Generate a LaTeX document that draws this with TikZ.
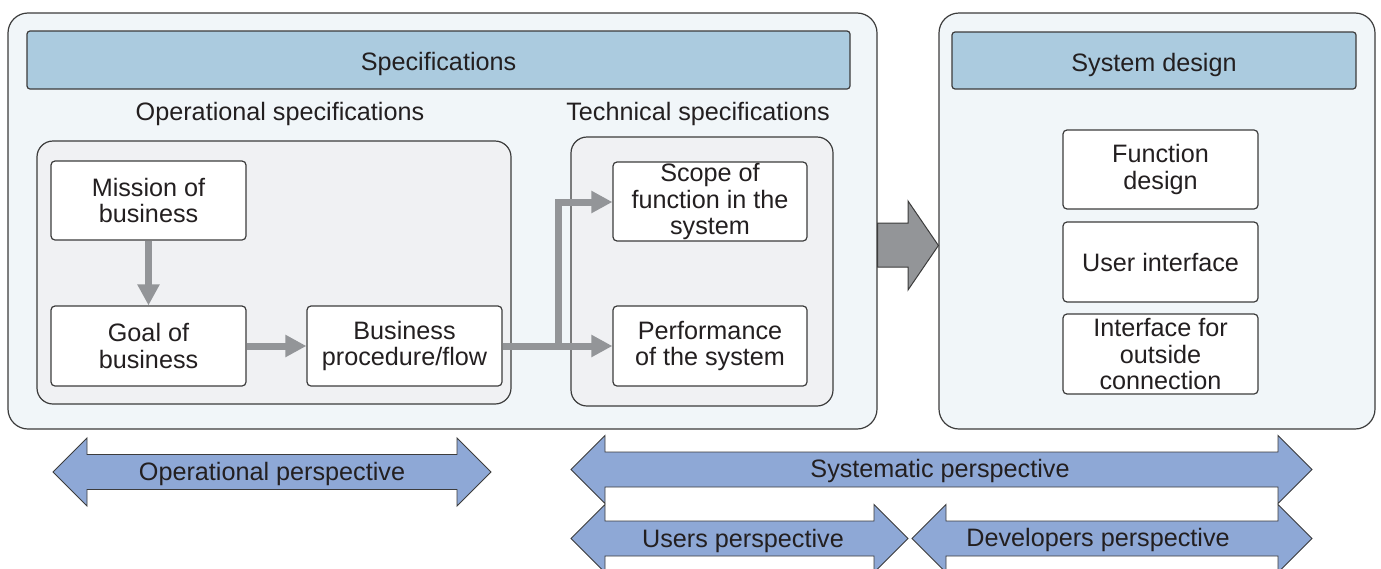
\documentclass[tikz,border=0pt]{standalone}
\usepackage{fontspec}
\setmainfont{Liberation Sans}
\usetikzlibrary{arrows.meta}
\definecolor{outerfill}{HTML}{F1F6F9}
\definecolor{headfill}{HTML}{ABCBDF}
\definecolor{innerfill}{HTML}{F0F1F3}
\definecolor{bordercol}{HTML}{3C3C3C}
\definecolor{txtcol}{HTML}{231F20}
\definecolor{graycon}{HTML}{939598}
\definecolor{perspfill}{HTML}{8EA8D6}
\newcommand\dblarr[4]{% left tip x, right tip x, center y, name
  \draw[persp] (#1,#3) -- ({#1+34},{#3-34}) -- ({#1+34},{#3-17.5}) -- ({#2-34},{#3-17.5})
    -- ({#2-34},{#3-34}) -- (#2,#3) -- ({#2-34},{#3+34}) -- ({#2-34},{#3+17.5})
    -- ({#1+34},{#3+17.5}) -- ({#1+34},{#3+34}) -- cycle;}
\begin{document}
\begin{tikzpicture}[x=1pt,y=-1pt,
  every node/.style={font=\fontsize{25.2}{26.6}\selectfont, text=txtcol},
  outerbox/.style={draw=bordercol, line width=1.2pt, fill=outerfill, rounded corners=20pt, inner sep=0pt},
  headbox/.style={draw=bordercol, line width=1.2pt, fill=headfill, rounded corners=3pt, inner sep=0pt},
  innerbox/.style={draw=bordercol, line width=1.2pt, fill=innerfill, rounded corners=16pt, inner sep=0pt},
  wbox/.style={draw=bordercol, line width=1.2pt, fill=white, rounded corners=4pt, inner sep=0pt, align=center, minimum width=195pt, minimum height=79pt},
  con/.style={draw=graycon, line width=7pt, -{Triangle[length=21pt,width=21pt]}},
  persp/.style={draw=bordercol, line width=0.9pt, fill=perspfill, line join=miter},
  bigarrow/.style={draw=bordercol, line width=1pt, fill=graycon}]
\useasboundingbox (0,0) rectangle (1381,568);

% outer panels
\node[outerbox, minimum width=869pt, minimum height=416pt] (spec) at (442.5,221) {};
\node[outerbox, minimum width=436pt, minimum height=416pt] (sysd) at (1157,221) {};
\node[headbox, minimum width=823pt, minimum height=58pt] (spechead) at (438.5,60) {};
\node[headbox, minimum width=404pt, minimum height=57pt] (sysdhead) at (1154,60.5) {};
\node (spectxt) at (438.5,64) {Specifications};
\node (sysdtxt) at (1154,65) {System design};

\node (opspec) at (280,114) {Operational specifications};
\node (techspec) at (698,114) {Technical specifications};

\node[innerbox, minimum width=474pt, minimum height=263pt] (opbox) at (274,272.5) {};
\node[innerbox, minimum width=262pt, minimum height=269pt] (techbox) at (702,271.5) {};

\node[wbox] (mission) at (148.5,200.5) {Mission of\\business};
\node[wbox, minimum height=80pt] (goal) at (148.5,346) {Goal of\\business};
\node[wbox, minimum height=80pt] (bp) at (404.5,346) {Business\\procedure/flow};
\node[wbox, minimum width=194pt] (scope) at (710,201.5) {Scope of\\function in the\\system};
\node[wbox, minimum width=194pt, minimum height=80pt] (perf) at (710,346) {Performance\\of the system};

\node[wbox] (fdesign) at (1160.5,169.5) {Function\\design};
\node[wbox, minimum height=80pt] (ui) at (1160.5,262) {User interface};
\node[wbox, minimum height=80pt] (iface) at (1160.5,354) {Interface for\\outside\\connection};

% connectors
\coordinate (branch) at (558,346);
\coordinate (bend) at (558,202);
\draw[con] (mission) -- (goal);
\draw[con] (goal) -- (bp);
\draw[con] (bp.east) -- (perf.west);
\draw[con] (bp.east) -- (branch) -- (bend) -- (scope.west |- bend);

% big gray arrow from specifications to system design
\draw[bigarrow] (spec.east |- 0,223) -- (908,223) -- (908,201) -- (sysd.west |- 0,245.5)
  -- (908,290) -- (908,267) -- (spec.east |- 0,267) -- cycle;

% perspective arrows
\dblarr{53}{491}{472}{op}
\dblarr{571}{1312}{469.5}{sys}
\dblarr{571}{908}{538.5}{usr}
\dblarr{912}{1312}{538.5}{dev}

\node (oplbl) at (272,474) {Operational perspective};
\node (syslbl) at (940,471) {Systematic perspective};
\node (usrlbl) at (743,541) {Users perspective};
\node (devlbl) at (1098,540) {Developers perspective};
\end{tikzpicture}
\end{document}
